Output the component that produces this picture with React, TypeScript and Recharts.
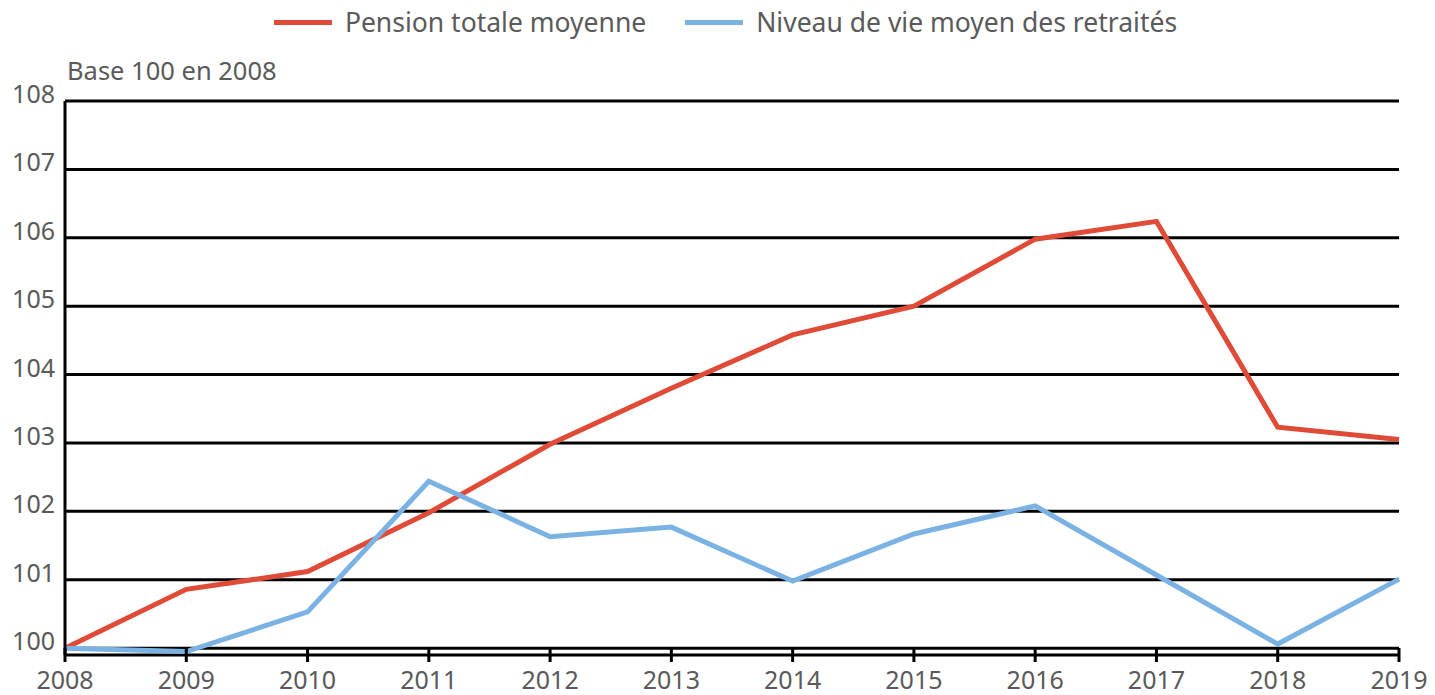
import React from 'react';
import { LineChart, Line, XAxis, YAxis, CartesianGrid, Legend } from 'recharts';

const years = ['2008', '2009', '2010', '2011', '2012', '2013', '2014', '2015', '2016', '2017', '2018', '2019'];
const pensionTotale = [100, 100.86, 101.12, 101.98, 102.98, 103.8, 104.58, 105.0, 105.98, 106.24, 103.23, 103.05];
const niveauVie = [100, 99.95, 100.53, 102.44, 101.63, 101.77, 100.98, 101.67, 102.08, 101.07, 100.06, 101.01];
const yTicks = [100, 101, 102, 103, 104, 105, 106, 107, 108];
const seriesNames = ['Pension totale moyenne', 'Niveau de vie moyen des retraités'];
const unitLabel = 'Base 100 en 2008';

const RED = '#E04B37';
const BLUE = '#7AB3E3';
const TEXT = '#5a5a5a';
const FONT = '"Noto Sans", "Open Sans", sans-serif';

const data = years.map((year, i) => ({ year, pension: pensionTotale[i], niveau: niveauVie[i] }));

const XTick = (props: any) => {
  const { x, y, payload } = props;
  return (
    <g>
      <line x1={x} x2={x} y1={y - 7} y2={y + 7} stroke="#000" strokeWidth={3} />
      <text x={x} y={y + 34} textAnchor="middle" fill={TEXT} fontSize={25} fontFamily={FONT}>
        {payload.value}
      </text>
    </g>
  );
};

const YTick = (props: any) => {
  const { x, y, payload } = props;
  return (
    <text x={x} y={y} dy={2} textAnchor="end" fill={TEXT} fontSize={25} fontFamily={FONT}>
      {payload.value}
    </text>
  );
};

const renderLegend = () => {
  const items = [
    { name: seriesNames[0], color: RED },
    { name: seriesNames[1], color: BLUE },
  ];
  return (
    <div style={{ display: 'flex', justifyContent: 'center', alignItems: 'center', height: 44, paddingLeft: 16 }}>
      {items.map((it, i) => (
        <div key={it.name} style={{ display: 'flex', alignItems: 'center', marginLeft: i === 0 ? 0 : 39 }}>
          <div style={{ width: 58, height: 5, background: it.color, marginRight: 13 }} />
          <span style={{ color: TEXT, fontSize: 26.5, fontFamily: FONT, lineHeight: '30px' }}>{it.name}</span>
        </div>
      ))}
    </div>
  );
};

const BaseLabel = (props: any) => {
  const { viewBox } = props;
  return (
    <text
      x={viewBox.x + viewBox.width + 2}
      y={viewBox.y - 21}
      textAnchor="start"
      fill={TEXT}
      fontSize={25.5}
      fontFamily={FONT}
    >
      {unitLabel}
    </text>
  );
};

export default function App() {
  return (
    <div style={{ position: 'absolute', left: 0, top: 0, width: 1435, height: 695, background: '#fff', fontFamily: FONT }}>
      <LineChart width={1435} height={695} data={data} margin={{ top: 41, right: 36, bottom: 0, left: 0 }}>
        <Legend verticalAlign="top" height={60} content={renderLegend} wrapperStyle={{ top: 0, left: 0, width: 1435 }} />
        <CartesianGrid horizontal={true} vertical={false} stroke="#000" strokeWidth={3} />
        <XAxis
          dataKey="year"
          height={40}
          axisLine={false}
          tickLine={false}
          tickSize={0}
          tickMargin={0}
          interval={0}
          tick={<XTick />}
        />
        <YAxis
          width={65}
          domain={[99.9, 108]}
          ticks={yTicks}
          interval={0}
          axisLine={{ stroke: '#000', strokeWidth: 3 }}
          tickLine={false}
          tickSize={0}
          tickMargin={10}
          tick={<YTick />}
          label={<BaseLabel />}
        />
        <Line type="linear" dataKey="pension" name={seriesNames[0]} stroke={RED} strokeWidth={5} dot={false} isAnimationActive={false} />
        <Line type="linear" dataKey="niveau" name={seriesNames[1]} stroke={BLUE} strokeWidth={5} dot={false} isAnimationActive={false} />
      </LineChart>
    </div>
  );
}
